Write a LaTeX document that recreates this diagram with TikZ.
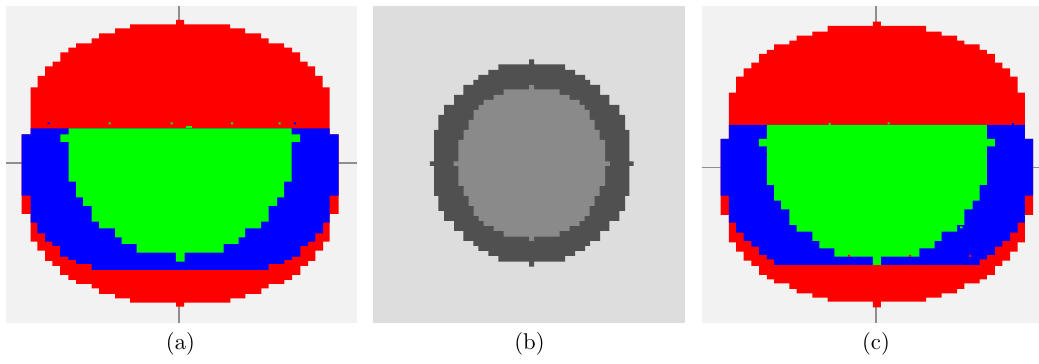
\documentclass[tikz,border=0pt]{standalone}
\definecolor{bgA}{HTML}{F2F2F2}
\definecolor{bgB}{HTML}{DDDDDD}
\definecolor{ringB}{HTML}{505050}
\definecolor{coreB}{HTML}{8A8A8A}
\definecolor{axisA}{HTML}{8E8E8E}
\definecolor{redM}{HTML}{FF0000}
\definecolor{blueM}{HTML}{0000FF}
\definecolor{greenM}{HTML}{00FF00}
\tikzset{
  axisline/.style={draw=axisA, line width=0.8pt},
  caption/.style={anchor=base, inner sep=0pt, font=\fontsize{10}{12}\selectfont},
}
\begin{document}
\begin{tikzpicture}[x=0.44pt,y=-0.44pt]
\useasboundingbox (0,0) rectangle (1039,364);

% ---------------- panel (a) ----------------
\fill[bgA] (6,6) rectangle (357,323);
\draw[axisline] (179.3,6) -- (179.3,323);
\draw[axisline] (6,163.3) -- (357,163.3);
\def\cx{180.2}
\fill[redM] foreach \ya/\yb/\h in {20/24.3/4, 24.3/28.3/50, 28.3/33.3/65, 33.3/38.3/81,
  38.3/43.3/88.5, 43.3/47.7/104, 47.7/52.3/111.8, 52.3/61.7/119.8, 61.7/66.3/127.5,
  66.3/76/135, 76/87.3/142.5, 87.3/134.3/149.5, 134.3/214/158.5, 214/241.7/149.5,
  241.7/250.7/142.9, 250.7/261/135.2, 261/266/127.9, 266/275/120.2, 275/280/111.9,
  280/284/104.2, 284/288.3/88.5, 288.3/294/81.2, 294/298.3/65.2, 298.3/302.7/50.2,
  302.7/306.7/4}
  {({\cx-\h},\ya) rectangle ({\cx+\h},\yb)};
\fill[blueM] foreach \ya/\yb/\h in {128.3/134.3/149.5, 134.3/195.7/158.5, 195.7/222.7/149.5,
  222.7/233.3/142.9, 233.3/241.7/135.2, 241.7/246/127.9, 246/256.7/120.2,
  256.7/260/111.9, 260/264/104.2, 264/270/88.5}
  {({\cx-\h},\ya) rectangle ({\cx+\h},\yb)};
\fill[greenM] foreach \ya/\yb/\h in {128.3/134.3/111.5, 134.3/142/119.8, 142/181.7/111.5,
  181.7/197.3/104, 197.3/206/97, 206/221.7/88.5, 221.7/228.3/81, 228.3/237.3/65,
  237.3/244/58.5, 244/252.7/43.5, 252.7/261.7/4.3}
  {({\cx-\h},\ya) rectangle ({\cx+\h},\yb)};
% small specks
\fill[greenM] (186,126.5) rectangle (191.7,128.5);
\fill[greenM] (108.5,122.5) rectangle (110.5,124.3) (170.5,122.5) rectangle (172.5,124.3)
  (231,122.5) rectangle (233,124.3) (278.5,122.5) rectangle (280.5,124.3);
\fill[blueM] (47.5,122.5) rectangle (49.5,124.3) (294,122.5) rectangle (296,124.3);
\node[caption] (la) at (180.5,349.3) {(a)};

% ---------------- panel (b) ----------------
\fill[bgB] (372.7,6) rectangle (685,322.7);
\def\bx{531.7}
\fill[ringB] foreach \ya/\yb/\h in {59.3/64.3/2.5, 64.3/70/33.3, 70/75/43.3, 75/80/53.3,
  80/85/58.3, 85/95/68.3, 95/105/77.6, 105/115/87.6, 115/130/93.3, 130/196/97.6,
  196/211/93.3, 211/221/87.6, 221/231/77.6, 231/241/68.3, 241/246/58.3, 246/251/53.3,
  251/256/43.3, 256/261.7/33.3, 261.7/266.7/2.5, 161.3/166/101.8}
  {({\bx-\h},\ya) rectangle ({\bx+\h},\yb)};
\fill[coreB] foreach \ya/\yb/\h in {85/89.3/2.5, 89.3/95/28, 95/100/38, 100/105/48,
  105/110/53, 110/120/58, 120/130/63, 130/140/68, 140/186/73.4, 186/196/68,
  196/206/63, 206/216/58, 216/221/53, 221/226/48, 226/231/38, 231/236.7/28,
  236.7/241/2.5, 161.3/166/78.2}
  {({\bx-\h},\ya) rectangle ({\bx+\h},\yb)};
\node[caption] (lb) at (529.5,349.3) {(b)};

% ---------------- panel (c) ----------------
\fill[bgA] (701.7,6) rectangle (1039,322.7);
\draw[axisline] (876,6) -- (876,322.7);
\draw[axisline] (701.7,167.5) -- (1039,167.5);
\def\ccx{876.9}
\fill[redM] foreach \ya/\yb/\h in {21.7/26/4, 26/31.7/49.2, 31.7/35.7/64.6, 35.7/40.7/80.3,
  40.7/44.3/87.5, 44.3/50/102.7, 50/54/110, 54/62.7/117.9, 62.7/68.3/125.5,
  68.3/76.7/133.3, 76.7/92.7/140.8, 92.7/139/148, 139/215/156.3, 215/242.3/148,
  242.3/251.7/140.8, 251.7/260.7/133.3, 260.7/266/125.5, 266/275/117.9, 275/279.3/110,
  279.3/283.3/102.7, 283.3/289/87.5, 289/293.3/80.3, 293.3/297.7/64.6,
  297.7/301.7/49.2, 301.7/307.3/4}
  {({\ccx-\h},\ya) rectangle ({\ccx+\h},\yb)};
\fill[blueM] foreach \ya/\yb/\h in {125/139/148, 139/195.7/156.3, 195.7/222.7/148,
  222.7/232.7/140.8, 232.7/241/133.3, 241/246.7/125.5, 246.7/255/117.9,
  255/259.3/110, 259.3/265/102.7}
  {({\ccx-\h},\ya) rectangle ({\ccx+\h},\yb)};
\fill[greenM] foreach \ya/\yb/\h in {125/139/110, 139/146.5/118, 146.5/185/110,
  185/200.7/102.7, 200.7/209.3/95.8, 209.3/225/87.5, 225/231.7/80.3, 231.7/241/64.6,
  241/248.3/57.6, 248.3/256.7/42.5, 256.7/265/4}
  {({\ccx-\h},\ya) rectangle ({\ccx+\h},\yb)};
% small specks
\fill[greenM] (828.5,123) rectangle (830.5,125) (887.5,122.3) rectangle (889.5,124.3)
  (960,226.5) rectangle (962.5,228.5);
\fill[blueM] (1011.5,123.3) rectangle (1013.5,125.3);
\fill[redM] (848,255) rectangle (850,257) (909,255) rectangle (911,257)
  (969,255) rectangle (971,257);
\node[caption] (lc) at (876,349.3) {(c)};
\end{tikzpicture}
\end{document}
